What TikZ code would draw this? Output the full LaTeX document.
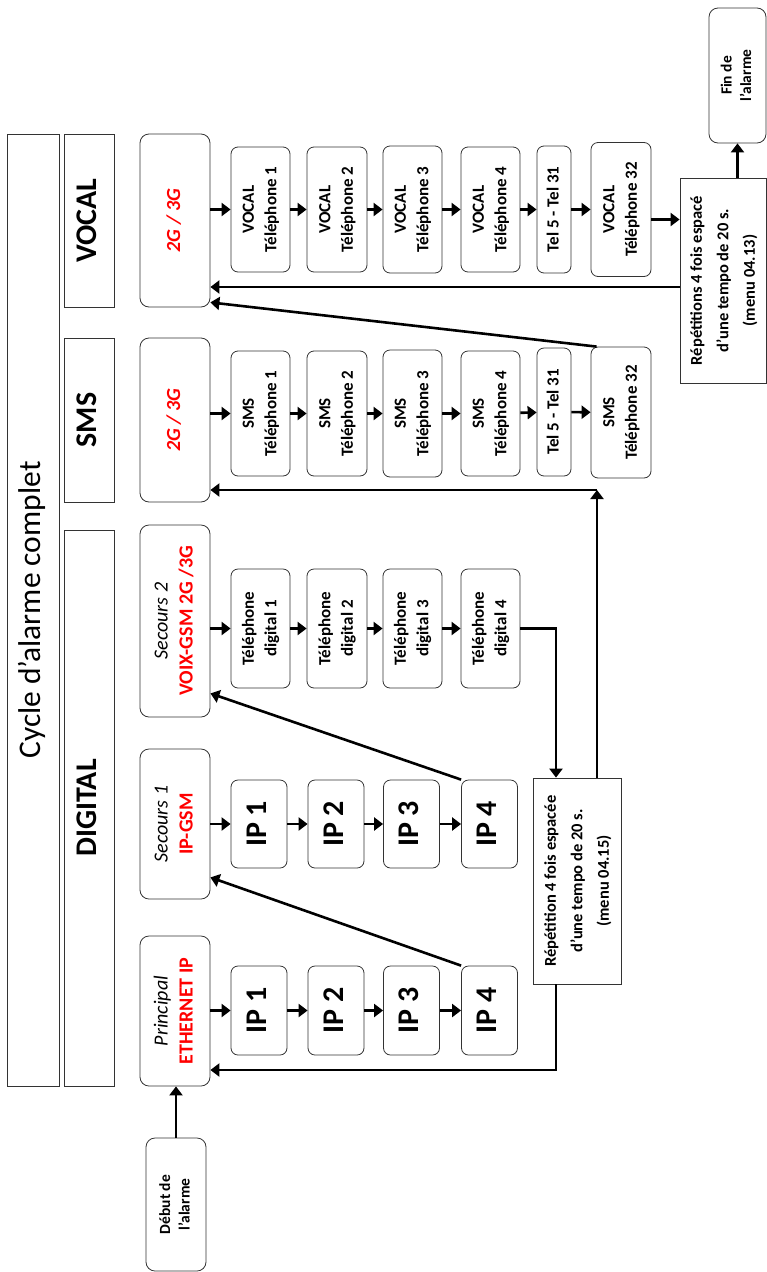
\documentclass[tikz,border=0pt]{standalone}
\usepackage{fontspec}
\setmainfont{Carlito}
\usepackage{graphicx}
\usetikzlibrary{arrows.meta,calc}
\definecolor{myred}{RGB}{255,0,0}
\newcommand{\rt}[1]{\rotatebox{90}{\begin{tabular}{@{}c@{}}#1\end{tabular}}}
\tikzset{
  plain/.style={draw=black!80, line width=0.8pt, inner sep=0pt},
  rbox/.style={plain, rounded corners=7pt},
  mainbox/.style={plain, rounded corners=9pt, minimum width=70pt, font=\fontsize{20}{25}\selectfont},
  hdr/.style={plain, minimum width=50pt, font=\fontsize{30}{36}\selectfont\bfseries},
  sm/.style={rbox, font=\fontsize{17}{22.5}\selectfont\bfseries},
  ipbox/.style={rbox, minimum width=56pt, font=\fontsize{30}{36}\selectfont\bfseries},
  rep/.style={plain, font=\fontsize{16.5}{26.5}\selectfont\bfseries},
  endbox/.style={rbox, rounded corners=9pt, font=\fontsize{15.5}{19.5}\selectfont\bfseries},
  arr/.style={line width=2.6pt, -{Triangle[length=9pt,width=13pt]}},
}
\begin{document}
\begin{tikzpicture}[x=1pt, y=-1pt]
\useasboundingbox (0,0) rectangle (767,1272);

% title and headers
\node[plain, minimum width=52pt, minimum height=952pt, font=\fontsize{31.5}{36}\selectfont] (title) at (33,610) {\rt{Cycle d'alarme complet}};
\node[hdr, minimum height=173pt] (hvocal) at (89,220.5) {\rt{VOCAL}};
\node[hdr, minimum height=164pt] (hsms) at (89,420) {\rt{SMS}};
\node[hdr, minimum height=556pt] (hdig) at (89,808) {\rt{DIGITAL}};

% main boxes
\node[mainbox, minimum height=173pt] (mvocal) at (175,220.5) {\rt{\color{myred}\bfseries\itshape 2G / 3G}};
\node[mainbox, minimum height=164pt] (msms) at (175,420) {\rt{\color{myred}\bfseries\itshape 2G / 3G}};
\node[mainbox, minimum height=192pt] (msec2) at (175,621) {\rt{\itshape Secours 2\\ \color{myred}\bfseries VOIX-GSM 2G /3G}};
\node[mainbox, minimum height=150pt] (msec1) at (175,824) {\rt{\itshape Secours 1\\ \color{myred}\bfseries IP-GSM}};
\node[mainbox, minimum height=150pt] (mprin) at (175,1011) {\rt{\itshape Principal\\ \color{myred}\bfseries ETHERNET IP}};
\node[endbox, minimum width=60pt, minimum height=133pt] (debut) at (176,1204.5) {\rt{Début de\\l'alarme}};
\node[endbox, minimum width=57pt, minimum height=135pt] (fin) at (737.5,75.5) {\rt{Fin de\\l'alarme}};

% VOCAL row
\node[sm, minimum width=59pt, minimum height=125pt] (v1) at (260.5,209.5) {\rt{VOCAL\\Téléphone 1}};
\node[sm, minimum width=60pt, minimum height=125pt] (v2) at (337,209.5) {\rt{VOCAL\\Téléphone 2}};
\node[sm, minimum width=59pt, minimum height=127pt] (v3) at (412.5,209.5) {\rt{VOCAL\\Téléphone 3}};
\node[sm, minimum width=59pt, minimum height=125pt] (v4) at (490.5,209.5) {\rt{VOCAL\\Téléphone 4}};
\node[sm, minimum width=34pt, minimum height=127pt] (v5) at (554,209.5) {\rt{Tel 5 - Tel 31}};
\node[sm, minimum width=60pt, minimum height=134pt] (v6) at (621,209.5) {\rt{VOCAL\\Téléphone 32}};

% SMS row
\node[sm, minimum width=59pt, minimum height=125pt] (s1) at (260.5,413.5) {\rt{SMS\\Téléphone 1}};
\node[sm, minimum width=60pt, minimum height=125pt] (s2) at (337,413.5) {\rt{SMS\\Téléphone 2}};
\node[sm, minimum width=59pt, minimum height=127pt] (s3) at (412.5,413.5) {\rt{SMS\\Téléphone 3}};
\node[sm, minimum width=59pt, minimum height=125pt] (s4) at (490.5,413.5) {\rt{SMS\\Téléphone 4}};
\node[sm, minimum width=34pt, minimum height=128pt] (s5) at (554,412) {\rt{Tel 5 - Tel 31}};
\node[sm, minimum width=60pt, minimum height=131pt] (s6) at (621,412.5) {\rt{SMS\\Téléphone 32}};

% Digital (Secours 2) row
\node[sm, minimum width=59pt, minimum height=119pt] (d1) at (260.5,628.5) {\rt{Téléphone\\digital 1}};
\node[sm, minimum width=60pt, minimum height=119pt] (d2) at (337,628.5) {\rt{Téléphone\\digital 2}};
\node[sm, minimum width=59pt, minimum height=119pt] (d3) at (412.5,628.5) {\rt{Téléphone\\digital 3}};
\node[sm, minimum width=59pt, minimum height=119pt] (d4) at (490.5,628.5) {\rt{Téléphone\\digital 4}};

% Secours 1 IP row
\node[ipbox, minimum height=88pt] (a1) at (259,824) {\rt{IP 1}};
\node[ipbox, minimum height=88pt] (a2) at (336,824) {\rt{IP 2}};
\node[ipbox, minimum height=88pt] (a3) at (411.5,824) {\rt{IP 3}};
\node[ipbox, minimum height=88pt] (a4) at (489.5,824) {\rt{IP 4}};

% Principal IP row
\node[ipbox, minimum height=89pt] (p1) at (259,1010.5) {\rt{IP 1}};
\node[ipbox, minimum height=89pt] (p2) at (336,1010.5) {\rt{IP 2}};
\node[ipbox, minimum height=89pt] (p3) at (411.5,1010.5) {\rt{IP 3}};
\node[ipbox, minimum height=89pt] (p4) at (489.5,1010.5) {\rt{IP 4}};

% repetition boxes
\node[rep, minimum width=88pt, minimum height=206pt] (repd) at (577,881) {\rt{Répétition 4 fois espacée\\d'une tempo de 20 s.\\(menu 04.15)}};
\node[rep, minimum width=86pt, minimum height=205pt] (repv) at (723,280.5) {\rt{Répétitions 4 fois espacé\\d'une tempo de 20 s.\\(menu 04.13)}};

% row arrows
\draw[arr] (mvocal.east |- v1.west) -- (v1.west);
\draw[arr] (v1) -- (v2); \draw[arr] (v2) -- (v3); \draw[arr] (v3) -- (v4);
\draw[arr] (v4) -- (v5); \draw[arr] (v5) -- (v6);
\draw[arr] (msms.east |- s1.west) -- (s1.west);
\draw[arr] (s1) -- (s2); \draw[arr] (s2) -- (s3); \draw[arr] (s3) -- (s4);
\draw[arr] (s4) -- (s5); \draw[arr] (s5) -- (s6);
\draw[arr] (msec2.east |- d1.west) -- (d1.west);
\draw[arr] (d1) -- (d2); \draw[arr] (d2) -- (d3); \draw[arr] (d3) -- (d4);
\draw[arr] (msec1.east |- a1.west) -- (a1.west);
\draw[arr] (a1) -- (a2); \draw[arr] (a2) -- (a3); \draw[arr] (a3) -- (a4);
\draw[arr] (mprin.east |- p1.west) -- (p1.west);
\draw[arr] (p1) -- (p2); \draw[arr] (p2) -- (p3); \draw[arr] (p3) -- (p4);

% start
\draw[arr] (debut.north) -- (mprin.south -| debut.north);

% fallbacks
\draw[arr] (p4.north west) -- ([yshift=22pt]msec1.south east);
\draw[arr] (a4.north west) -- ([yshift=24pt]msec2.south east);
\draw[arr] (d4.east) -| ([xshift=-21pt]repd.north);
\draw[arr] ([xshift=-21pt]repd.south) |- ([yshift=-59pt]mprin.east);
\coordinate (c1) at (597,490);
\draw[arr] ([xshift=20pt]repd.north) -- (c1);
\draw[arr] (c1) -- (msms.east |- c1);
\draw[arr] ([xshift=6pt]s6.north west) -- ([yshift=5pt]mvocal.south east);
\path ([yshift=-10pt]v6.east) coordinate (v6o);
\draw[arr] (v6o) -- (v6o -| repv.west);
\coordinate (kv) at ([yshift=-66.5pt]mvocal.east);
\draw[arr] (repv.west |- kv) -- (kv);
\draw[arr] (fin.south |- repv.north) -- (fin.south);
\end{tikzpicture}
\end{document}
